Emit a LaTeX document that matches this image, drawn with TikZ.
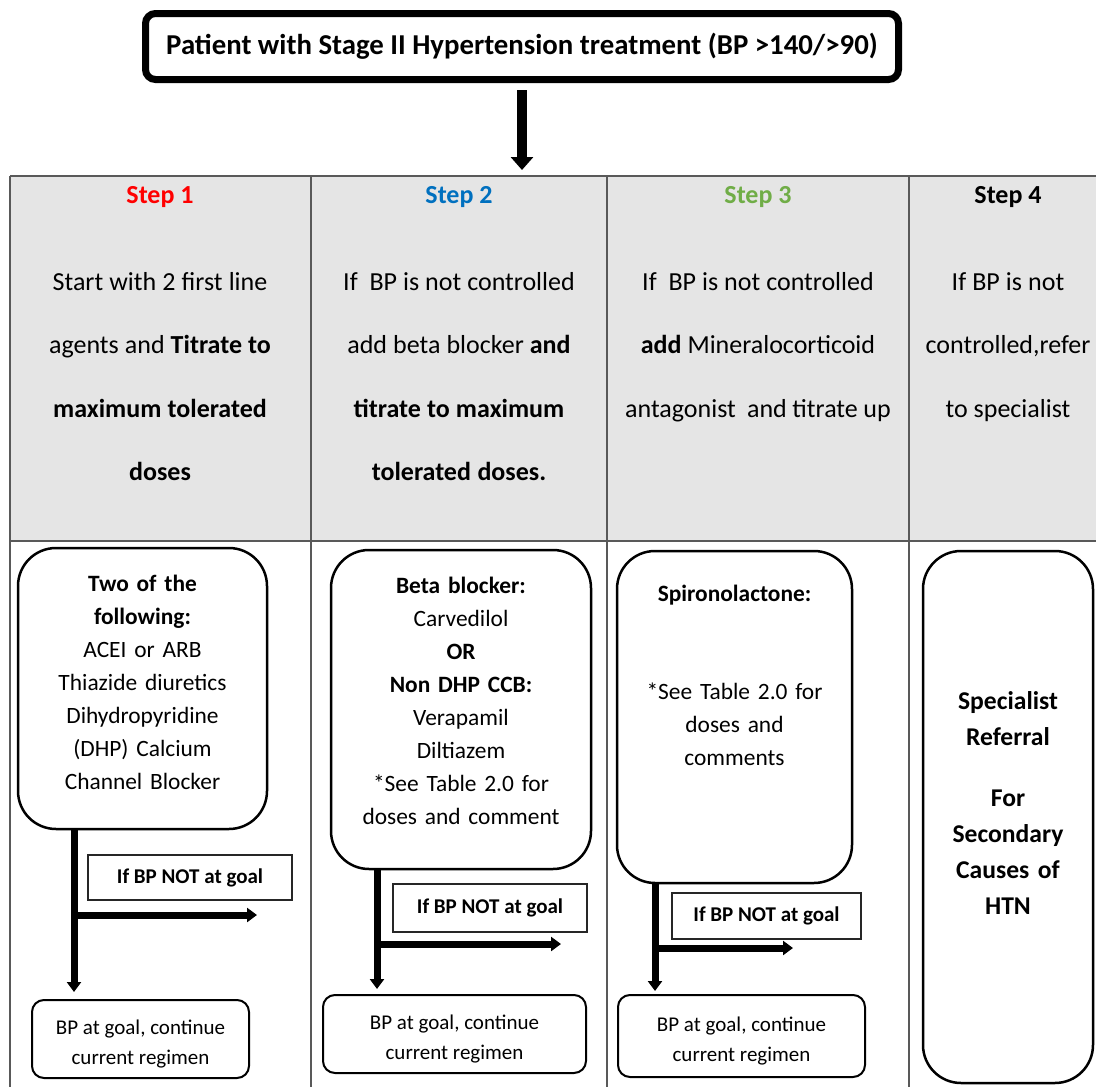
\documentclass[tikz,border=0pt]{standalone}
\usepackage{fontspec}
\setmainfont{Carlito}
\usepackage{tikz}
\usetikzlibrary{arrows.meta, calc}
\definecolor{stepred}{rgb}{1,0,0}
\definecolor{stepblue}{rgb}{0,0.44,0.75}
\definecolor{stepgreen}{rgb}{0.44,0.68,0.28}
\definecolor{headgray}{rgb}{0.9,0.9,0.9}
\definecolor{rulegray}{rgb}{0.35,0.35,0.35}
\newcommand\narrowspace{\spaceskip=5.4pt plus 1pt minus 1pt\relax}

\tikzset{
  titlebox/.style={draw, line width=7pt, rounded corners=10pt, minimum width=753pt, minimum height=66pt, inner sep=0pt, font=\bfseries\fontsize{28.8}{34}\selectfont},
  steptxt/.style={anchor=base, inner sep=0pt, font=\bfseries\fontsize{26}{32}\selectfont},
  headtxt/.style={anchor=base, align=center, text width=290pt, inner sep=0pt, font=\fontsize{26}{63.5}\selectfont, execute at begin node=\narrowspace},
  regbox/.style={draw, line width=2.5pt, rounded corners=38pt, inner sep=0pt},
  regtxt/.style={anchor=base, align=center, text width=240pt, inner sep=0pt, font=\fontsize{23.4}{33}\selectfont},
  goalbox/.style={draw, line width=2pt, rounded corners=12pt, align=center, inner sep=0pt, text height=54pt, font=\fontsize{21}{29.5}\selectfont},
  ifbox/.style={draw=black!85, line width=1.2pt, inner sep=0pt, font=\bfseries\fontsize{21}{25}\selectfont},
  flow/.style={line width=7pt, -{Triangle[width=14pt,length=10pt]}},
  mainflow/.style={line width=10pt, -{Triangle[width=22pt,length=13pt]}}
}

\begin{document}
\begin{tikzpicture}[x=1pt, y=-1pt]
\useasboundingbox (0,0) rectangle (1096,1087);

% table behind everything
\fill[headgray] (10,176) rectangle (1096,541);
\draw[rulegray, line width=1.5pt] (10,176) -- (1096,176) (10,541) -- (1096,541);
\foreach \xcol in {10,311,607,909}
  \draw[rulegray, line width=1.2pt] (\xcol,176) -- (\xcol,1087);

\node[titlebox] (title) at (522,46.5) {Patient with Stage II Hypertension treatment (BP >140/>90)};
\coordinate (tabtop) at (522,176);
\draw[mainflow, shorten <=7pt, shorten >=6pt] (title.south) -- (tabtop);

% header row
\node[steptxt, text=stepred] (step1) at (160,203) {Step 1};
\node[steptxt, text=stepblue] (step2) at (459,203) {Step 2};
\node[steptxt, text=stepgreen] (step3) at (758,203) {Step 3};
\node[steptxt] (step4) at (1008,203) {Step 4};

\node[headtxt] (todo1) at (160,290) {Start with 2 first line\\agents and \textbf{Titrate to}\\\textbf{maximum tolerated}\\\textbf{doses}};
\node[headtxt] (todo2) at (459,290) {If~~BP is not controlled\\add beta blocker \textbf{and}\\\textbf{titrate to maximum}\\\textbf{tolerated doses.}};
\node[headtxt] (todo3) at (758,290) {If~~BP is not controlled\\\textbf{add} Mineralocorticoid\\antagonist~~and titrate up};
\node[headtxt, text width=185pt] (todo4) at (1008,290) {If BP is not\\controlled,refer\\to specialist};

% drug boxes
\node[regbox, minimum width=249pt, minimum height=281pt] (reg1) at (142.5,688.5) {};
\node[regbox, minimum width=260pt, minimum height=319pt] (reg2) at (461,709.5) {};
\node[regbox, minimum width=235pt, minimum height=332pt] (reg3) at (734.5,717) {};
\node[regbox, minimum width=170pt, minimum height=532pt] (reg4) at (1008,817) {};

\node[regtxt] (reg1txt) at ($(reg1.north)+(0,45)$) {\textbf{Two of the}\\\textbf{following:}\\ACEI or ARB\\Thiazide diuretics\\Dihydropyridine\\(DHP) Calcium\\Channel Blocker};
\node[regtxt] (reg2txt) at ($(reg2.north)+(0,45)$) {\textbf{Beta blocker:}\\Carvedilol\\\textbf{OR}\\\textbf{Non DHP CCB:}\\Verapamil\\Diltiazem\\{}*See Table 2.0 for\\doses and comment};
\node[regtxt, text width=225pt] (reg3txt) at ($(reg3.north)+(0,52)$) {\textbf{Spironolactone:}\\[65pt]*See Table 2.0 for\\doses and\\comments};
\node[regtxt, text width=160pt, font=\bfseries\fontsize{25.6}{36}\selectfont] (reg4txt) at ($(reg4.north)+(0,160)$) {Specialist\\Referral\\[25pt]For\\Secondary\\Causes of\\HTN};

% not at goal
\node[ifbox, minimum width=204pt, minimum height=45pt] (miss1) at (190,877.5) {If BP NOT at goal};
\node[ifbox, minimum width=194pt, minimum height=48pt] (miss2) at (490,908) {If BP NOT at goal};
\node[ifbox, minimum width=189pt, minimum height=46pt] (miss3) at (766.5,916) {If BP NOT at goal};

% at goal
\node[goalbox, minimum width=217pt, minimum height=78pt] (goal1) at (140.5,1039) {BP at goal, continue\\current regimen};
\node[goalbox, minimum width=263pt, minimum height=78pt] (goal2) at (454.5,1034) {BP at goal, continue\\current regimen};
\node[goalbox, minimum width=247pt, minimum height=82pt] (goal3) at (741.5,1036) {BP at goal, continue\\current regimen};

\coordinate (split1) at (74,915);
\coordinate (next1) at (257,915);
\coordinate (split2) at (377,944);
\coordinate (next2) at (561,944);
\coordinate (split3) at (655,948);
\coordinate (next3) at (793,948);

\draw[flow, shorten >=7pt] (reg1.south -| split1) -- (split1 |- goal1.north);
\draw[flow] (split1) -- (next1);
\draw[flow, shorten >=5pt] (reg2.south -| split2) -- (split2 |- goal2.north);
\draw[flow] (split2) -- (next2);
\draw[flow, shorten >=3pt] (reg3.south -| split3) -- (split3 |- goal3.north);
\draw[flow] (split3) -- (next3);
\end{tikzpicture}
\end{document}
